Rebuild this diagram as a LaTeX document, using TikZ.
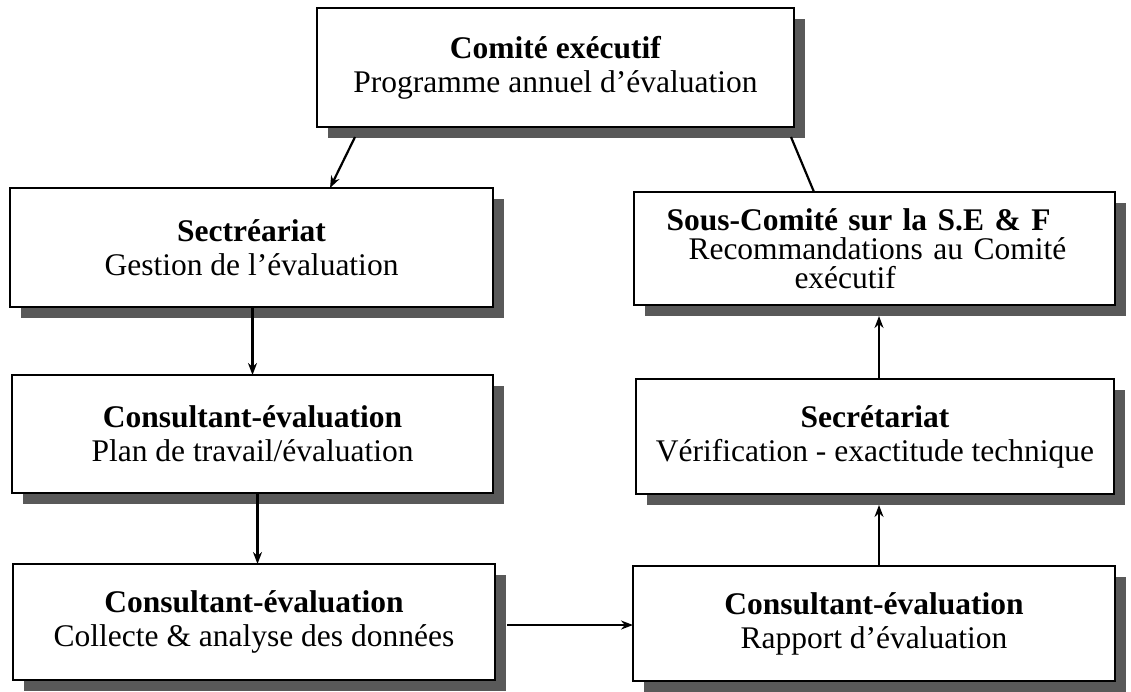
\documentclass[tikz,border=0pt]{standalone}
\usepackage{fontspec}
\setmainfont{Liberation Serif}
\usetikzlibrary{arrows.meta,shadows,calc}
\begin{document}
\begin{tikzpicture}[x=1pt,y=-1pt,
  box/.style={draw, line width=2.4pt, fill=white, inner sep=0pt, outer sep=0pt,
    align=center, font=\fontsize{31.5}{34}\selectfont,
    drop shadow={shadow xshift=11pt, shadow yshift=-11pt, fill=black!65, opacity=1}},
  conn/.style={line width=2.2pt},
  arr/.style={conn, -{Stealth[length=12pt,width=9pt]}}]
\useasboundingbox (0,0) rectangle (1131,691);

\node[box, minimum width=477pt, minimum height=119pt] (top) at (555.5,67.5)
  {\textbf{Comité exécutif}\\Programme annuel d’évaluation};
\node[box, minimum width=483pt, minimum height=119pt] (sect) at (251.5,247.5)
  {\textbf{Sectréariat}\\Gestion de l’évaluation};
\node[box, minimum width=481pt, minimum height=113pt, text width=460pt, align=left] (sous) at (874.5,248.5)
  {\hspace*{22pt}\textbf{Sous-Comité sur la S.E \& F}\\[-5pt]
   \hspace*{44pt}Recommandations au Comité\\[-5pt]
   \hspace*{150pt}exécutif};
\node[box, minimum width=481pt, minimum height=118pt] (cons1) at (252.5,434)
  {\textbf{Consultant-évaluation}\\Plan de travail/évaluation};
\node[box, minimum width=478pt, minimum height=115pt] (secr) at (875,436.5)
  {\textbf{Secrétariat}\\Vérification - exactitude technique};
\node[box, minimum width=482pt, minimum height=116pt] (cons2) at (254,622)
  {\textbf{Consultant-évaluation}\\Collecte \& analyse des données};
\node[box, minimum width=482pt, minimum height=115pt] (rapp) at (874,623.5)
  {\textbf{Consultant-évaluation}\\Rapport d’évaluation};

% connectors
\coordinate (a1) at ($(top.south west)+(38,10)$);
\coordinate (b1) at ($(sect.north west)+(320,0)$);
\draw[arr] (a1) -- (b1);

\coordinate (a7) at ($(top.south east)+(-3,10)$);
\coordinate (b7) at ($(sous.north west)+(180,0)$);
\draw[conn] (a7) -- (b7);

\coordinate (a2) at ($(sect.south)+(1,0)$);
\draw[arr] (a2) -- (a2 |- cons1.north);

\coordinate (a3) at ($(cons1.south)+(5,0)$);
\draw[arr] (a3) -- (a3 |- cons2.north);

\coordinate (a4) at ($(cons2.east)+(12,3)$);
\draw[arr] (a4) -- (a4 -| rapp.west);

\coordinate (a5) at ($(rapp.north)+(5,0)$);
\coordinate (b5) at ($(a5 |- secr.south)+(0,11)$);
\draw[arr] (a5) -- (b5);

\coordinate (a6) at ($(secr.north)+(4,0)$);
\coordinate (b6) at ($(a6 |- sous.south)+(0,11)$);
\draw[arr] (a6) -- (b6);
\end{tikzpicture}
\end{document}
